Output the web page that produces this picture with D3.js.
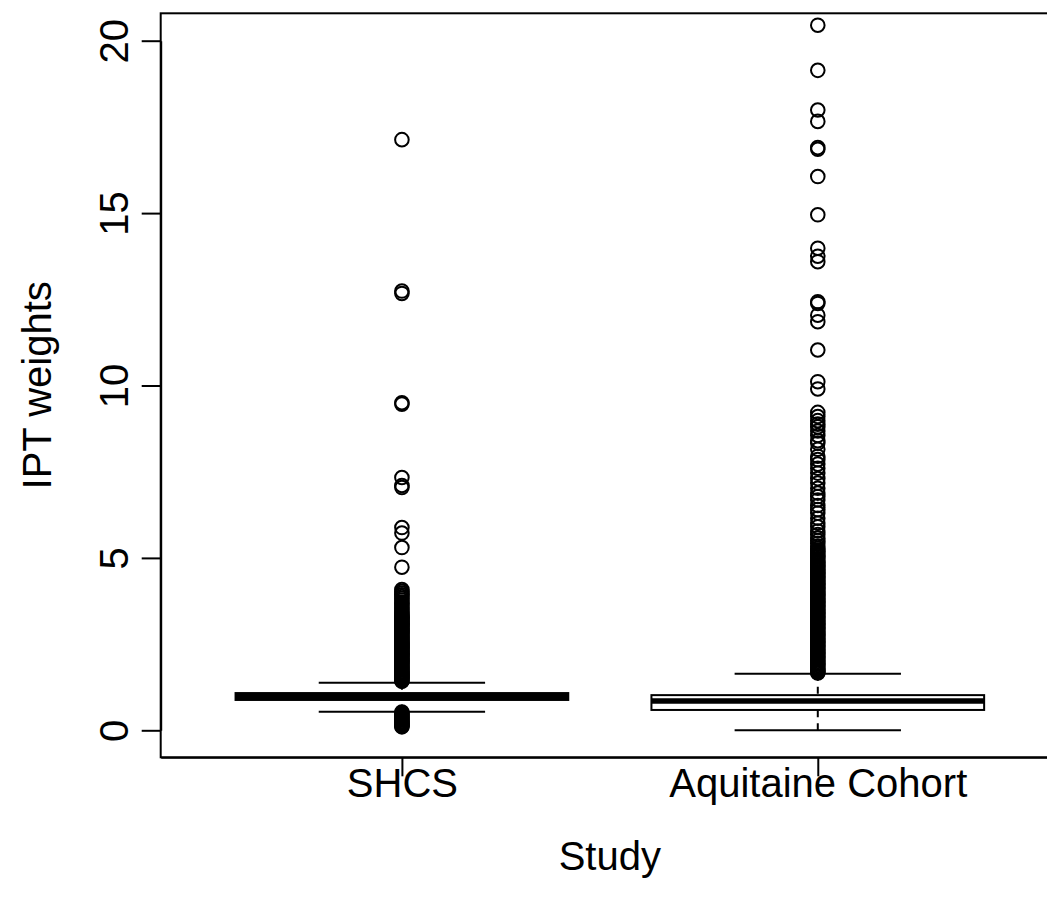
<!DOCTYPE html>
<html>
<head>
<meta charset="utf-8">
<script src="https://cdn.jsdelivr.net/npm/d3@7"></script>
<style>
  html, body { margin: 0; padding: 0; background: #fff; }
  svg { display: block; }
  text { font-family: "Liberation Sans", Arial, sans-serif; fill: #000; }
</style>
</head>
<body>
<div id="dataviz"></div>
<script>
// study names and box statistics
const studies = ['SHCS', 'Aquitaine Cohort'];
const whiskerLow = [0.54, 0.00];
const q1 = [0.88, 0.59];
const medians = [0.975, 0.85];
const q3 = [1.08, 1.02];
const whiskerHigh = [1.38, 1.64];

const shcsOutliers = [
  17.13, 12.74, 12.67, 9.50, 9.46, 7.33, 7.10, 7.04, 5.88, 5.72, 5.30, 4.73,
  4.08, 4.03, 3.98, 3.93, 3.88, 3.83, 3.78, 3.72, 3.67, 3.62, 3.57, 3.52, 3.47,
  3.42, 3.38, 3.34, 3.30, 3.27, 3.24, 3.21, 3.18, 3.15, 3.12, 3.09, 3.06, 3.03,
  3.00, 2.97, 2.94, 2.91, 2.88, 2.85, 2.82, 2.79, 2.76, 2.73, 2.70, 2.67, 2.64,
  2.61, 2.58, 2.55, 2.52, 2.49, 2.46, 2.43, 2.40, 2.37, 2.34, 2.31, 2.28, 2.25,
  2.22, 2.19, 2.16, 2.13, 2.10, 2.07, 2.04, 2.01, 1.98, 1.95, 1.92, 1.89, 1.86,
  1.83, 1.80, 1.77, 1.74, 1.71, 1.68, 1.65, 1.62, 1.59, 1.56, 1.53, 1.50, 1.47,
  1.44, 1.42,
  0.53, 0.50, 0.47, 0.44, 0.41, 0.38, 0.35, 0.32, 0.29, 0.26, 0.23, 0.20, 0.17,
  0.14, 0.12, 0.10
];

const aquitaineOutliers = [
  20.45, 19.14, 17.99, 17.66, 16.90, 16.85, 16.06, 14.95, 13.98, 13.75, 13.59,
  12.43, 12.38, 12.04, 11.85, 11.03, 10.11, 9.90,
  9.22, 9.10, 8.98, 8.88, 8.80, 8.68, 8.55, 8.40, 8.33, 8.15, 7.95, 7.85, 7.72,
  7.60, 7.46, 7.30, 7.17, 7.02, 6.88, 6.78, 6.68, 6.52, 6.40, 6.30, 6.15, 6.01,
  5.90, 5.78, 5.68, 5.58, 5.50, 5.42, 5.34, 5.28, 5.23, 5.18, 5.13, 5.08, 5.03,
  4.98, 4.93, 4.88, 4.84, 4.80, 4.76, 4.72, 4.68, 4.64, 4.60, 4.56, 4.52, 4.48,
  4.44, 4.40, 4.36, 4.32, 4.28, 4.24, 4.20, 4.16, 4.12, 4.08, 4.04, 4.00, 3.96,
  3.92, 3.88, 3.84, 3.80, 3.76, 3.72, 3.68, 3.64, 3.60, 3.56, 3.52, 3.48, 3.44,
  3.40, 3.36, 3.32, 3.28, 3.24, 3.20, 3.16, 3.12, 3.08, 3.04, 3.00, 2.96, 2.92,
  2.88, 2.84, 2.80, 2.76, 2.72, 2.68, 2.64, 2.60, 2.56, 2.52, 2.48, 2.44, 2.40,
  2.36, 2.32, 2.28, 2.24, 2.20, 2.16, 2.12, 2.08, 2.04, 2.00, 1.96, 1.92, 1.88,
  1.84, 1.80, 1.77, 1.74, 1.71, 1.68, 1.66
];

const yTicks = [0, 5, 10, 15, 20];

const width = 1047;
const height = 905;
const plot = { left: 160.7, top: 13.3, bottom: 757.3, right: 1059 };
const fontSize = 40;
const lw = 2;

const svg = d3.select('#dataviz')
  .append('svg')
  .attr('width', width)
  .attr('height', height);

const xScale = d3.scaleLinear()
  .domain([0.42, 2.58])
  .range([plot.left, plot.right]);

const yScale = d3.scaleLinear()
  .domain([0, 20])
  .range([730.3, 40.7]);

const boxHalf = xScale(1.4) - xScale(1);
const capHalf = boxHalf / 2;

const boxes = studies.map((name, i) => ({
  name, pos: i + 1,
  lo: whiskerLow[i], q1: q1[i], med: medians[i], q3: q3[i], hi: whiskerHigh[i]
}));

const g = svg.append('g');

boxes.forEach(b => {
  const cx = xScale(b.pos);
  // dashed whiskers, from the caps toward the box
  g.append('line')
    .attr('x1', cx).attr('x2', cx)
    .attr('y1', yScale(b.lo)).attr('y2', yScale(b.q1))
    .attr('stroke', '#000').attr('stroke-width', lw)
    .attr('stroke-dasharray', '7,6');
  g.append('line')
    .attr('x1', cx).attr('x2', cx)
    .attr('y1', yScale(b.hi)).attr('y2', yScale(b.q3))
    .attr('stroke', '#000').attr('stroke-width', lw)
    .attr('stroke-dasharray', '7,6');
  // caps
  [b.lo, b.hi].forEach(v => {
    g.append('line')
      .attr('x1', cx - capHalf).attr('x2', cx + capHalf)
      .attr('y1', yScale(v)).attr('y2', yScale(v))
      .attr('stroke', '#000').attr('stroke-width', lw);
  });
  // box
  g.append('rect')
    .attr('x', cx - boxHalf)
    .attr('y', yScale(b.q3))
    .attr('width', boxHalf * 2)
    .attr('height', yScale(b.q1) - yScale(b.q3))
    .attr('fill', 'none')
    .attr('stroke', '#000').attr('stroke-width', lw);
  // median
  g.append('line')
    .attr('x1', cx - boxHalf).attr('x2', cx + boxHalf)
    .attr('y1', yScale(b.med)).attr('y2', yScale(b.med))
    .attr('stroke', '#000').attr('stroke-width', lw * 2.8);
});

// outliers
const outlierData = []
  .concat(shcsOutliers.map(v => ({ pos: 1, v })))
  .concat(aquitaineOutliers.map(v => ({ pos: 2, v })));

svg.selectAll('circle.outlier')
  .data(outlierData)
  .enter()
  .append('circle')
  .attr('class', 'outlier')
  .attr('cx', d => xScale(d.pos))
  .attr('cy', d => yScale(d.v))
  .attr('r', 6.8)
  .attr('fill', 'none')
  .attr('stroke', '#000')
  .attr('stroke-width', lw);

// frame (right side falls outside the page)
svg.append('rect')
  .attr('x', plot.left)
  .attr('y', plot.top)
  .attr('width', plot.right - plot.left)
  .attr('height', plot.bottom - plot.top)
  .attr('fill', 'none')
  .attr('stroke', '#000')
  .attr('stroke-width', lw);

// y axis
const yAxis = d3.axisLeft(yScale)
  .tickValues(yTicks)
  .tickSize(19)
  .tickSizeOuter(0);

const yAxisG = svg.append('g')
  .attr('transform', `translate(${plot.left}, 0)`)
  .call(yAxis);

yAxisG.selectAll('path.domain').attr('stroke-width', lw);
yAxisG.selectAll('line').attr('stroke-width', lw);
yAxisG.selectAll('text')
  .attr('x', null).attr('y', null).attr('dy', null)
  .attr('transform', `translate(${128 - plot.left}, 0) rotate(-90)`)
  .attr('text-anchor', 'middle')
  .style('font-size', fontSize + 'px')
  .style('font-family', '"Liberation Sans", Arial, sans-serif');

// x axis
const xAxis = d3.axisBottom(xScale)
  .tickValues([1, 2])
  .tickFormat((d, i) => studies[i])
  .tickSize(19)
  .tickSizeOuter(0);

const xAxisG = svg.append('g')
  .attr('transform', `translate(0, ${plot.bottom})`)
  .call(xAxis);

xAxisG.selectAll('path.domain').attr('stroke-width', lw);
xAxisG.selectAll('line').attr('stroke-width', lw);
xAxisG.selectAll('text')
  .attr('y', 797 - plot.bottom)
  .attr('dy', null)
  .style('font-size', fontSize + 'px')
  .style('font-family', '"Liberation Sans", Arial, sans-serif');

// axis titles
svg.append('text')
  .attr('x', (plot.left + plot.right) / 2)
  .attr('y', 870)
  .attr('text-anchor', 'middle')
  .style('font-size', fontSize + 'px')
  .text('Study');

svg.append('text')
  .attr('transform', `translate(51, ${(plot.top + plot.bottom) / 2}) rotate(-90)`)
  .attr('text-anchor', 'middle')
  .style('font-size', fontSize + 'px')
  .text('IPT weights');
</script>
</body>
</html>
